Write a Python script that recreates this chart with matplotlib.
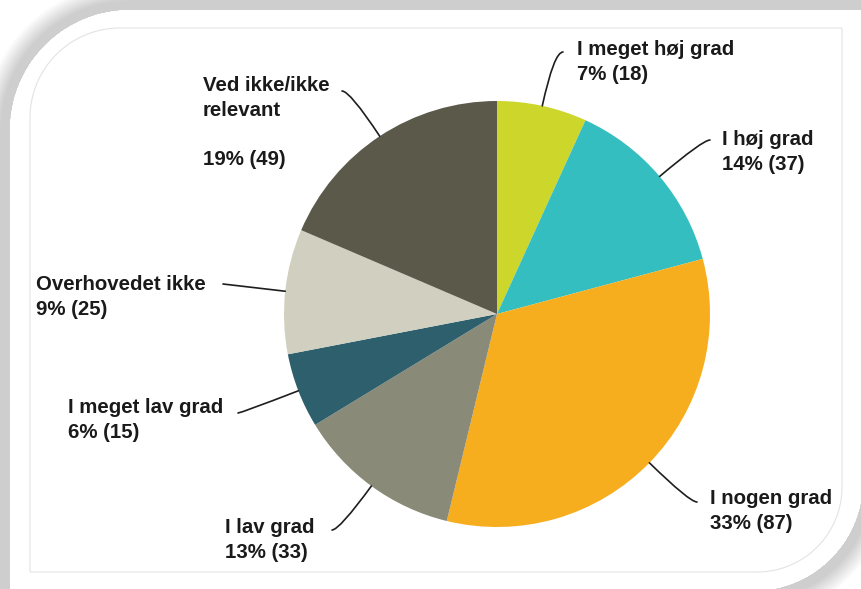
import numpy as np
import matplotlib
matplotlib.use('Agg')
import matplotlib.pyplot as plt
from matplotlib.path import Path
from matplotlib.patches import PathPatch

W, H = 861, 589

# data
labels = ['I meget høj grad', 'I høj grad', 'I nogen grad', 'I lav grad',
          'I meget lav grad', 'Overhovedet ikke', 'Ved ikke/ikke\nrelevant\n']
counts = [18, 37, 87, 33, 15, 25, 49]
percents = [7, 14, 33, 13, 6, 9, 19]
colors = ['#cdd62a', '#35bec0', '#f6ad1e', '#8a8a78', '#2e5f6d', '#d0cfc0', '#5b594a']

# layout in pixels (x from left, y from top): text = left edge, first baseline
text_pos = [(577, 56), (722, 146), (710, 505), (225, 534), (68, 414), (36, 291), (203, 93)]
line_end = [(563, 52), (710, 140), (697, 502), (332, 530), (238, 413), (223, 284), (342, 91)]
line_gap = 24
pie_center = (497, 314)
pie_radius = 213


def frame_path(x0, y0, x1, y1, r_tl, r_br):
    """rectangulo con esquinas redondeadas arriba-izq y abajo-der (pixeles, y hacia abajo)"""
    t = np.linspace(0, np.pi / 2, 40)
    tl = np.column_stack([x0 + r_tl - r_tl * np.cos(t), y0 + r_tl - r_tl * np.sin(t)])
    br = np.column_stack([x1 - r_br + r_br * np.cos(t), y1 - r_br + r_br * np.sin(t)])
    pts = np.vstack([tl, [[x1, y0]], br, [[x0, y1]], tl[:1]])
    pts[:, 1] = H - pts[:, 1]
    codes = [Path.MOVETO] + [Path.LINETO] * (len(pts) - 2) + [Path.CLOSEPOLY]
    return Path(pts, codes)


def shape_dist(px, py, x0, y0, x1, y1, r_tl, r_br):
    d = np.maximum.reduce([x0 - px, px - x1, y0 - py, py - y1])
    in_tl = (px < x0 + r_tl) & (py < y0 + r_tl)
    d_tl = np.hypot(px - (x0 + r_tl), py - (y0 + r_tl)) - r_tl
    in_br = (px > x1 - r_br) & (py > y1 - r_br)
    d_br = np.hypot(px - (x1 - r_br), py - (y1 - r_br)) - r_br
    d = np.where(in_tl, d_tl, d)
    d = np.where(in_br, d_br, d)
    return d


fig = plt.figure(figsize=(W / 100, H / 100), dpi=100)
ax = fig.add_axes([0, 0, 1, 1])

# sombra del marco
yy, xx = np.mgrid[0:H, 0:W] + 0.5
dist = shape_dist(xx, yy, 10, 10, 863, 591, 120, 110)
shade = 1 - 0.19 * np.clip(1 - (dist - 9) / 18, 0, 1)
shade[dist <= 0] = 1
ax.imshow(np.dstack([shade] * 3), extent=(0, W, 0, H), origin='upper',
          interpolation='bilinear', zorder=0)

ax.add_patch(PathPatch(frame_path(10, 10, 863, 591, 120, 110), facecolor='white',
                       edgecolor='none', zorder=1))
ax.add_patch(PathPatch(frame_path(30, 28, 842, 572, 90, 85), facecolor='none',
                       edgecolor='#e3e3e3', lw=0.8, zorder=2))

cx, cy = pie_center[0], H - pie_center[1]
wedges, _ = ax.pie(counts, colors=colors, startangle=90, counterclock=False,
                   center=(cx, cy), radius=pie_radius,
                   wedgeprops=dict(linewidth=0, zorder=3))

for i, w in enumerate(wedges):
    mid = (w.theta1 + w.theta2) / 2
    edge = (cx + pie_radius * np.cos(np.radians(mid)), cy + pie_radius * np.sin(np.radians(mid)))
    end = (line_end[i][0], H - line_end[i][1])
    if i == 5:
        cs = 'arc3,rad=0'
    else:
        cs = f'angle3,angleA=0,angleB={mid}'
    ax.annotate('', xy=edge, xytext=end,
                arrowprops=dict(arrowstyle='-', color='#1e1e1e', lw=1.2,
                                shrinkA=0, shrinkB=0, connectionstyle=cs), zorder=4)
    txt = f'{labels[i]}\n{percents[i]}% ({counts[i]})'
    n = txt.count('\n')
    # va='baseline' ancla la ultima linea
    ax.text(text_pos[i][0], H - (text_pos[i][1] + n * line_gap), txt,
            ha='left', va='baseline', fontsize=14.7, fontweight='bold',
            family='Liberation Sans', color='#1a1a1a', linespacing=1.37, zorder=5)

ax.set_xlim(0, W)
ax.set_ylim(0, H)
ax.set_aspect('auto')
ax.axis('off')

fig.savefig('out.png', dpi=100)
